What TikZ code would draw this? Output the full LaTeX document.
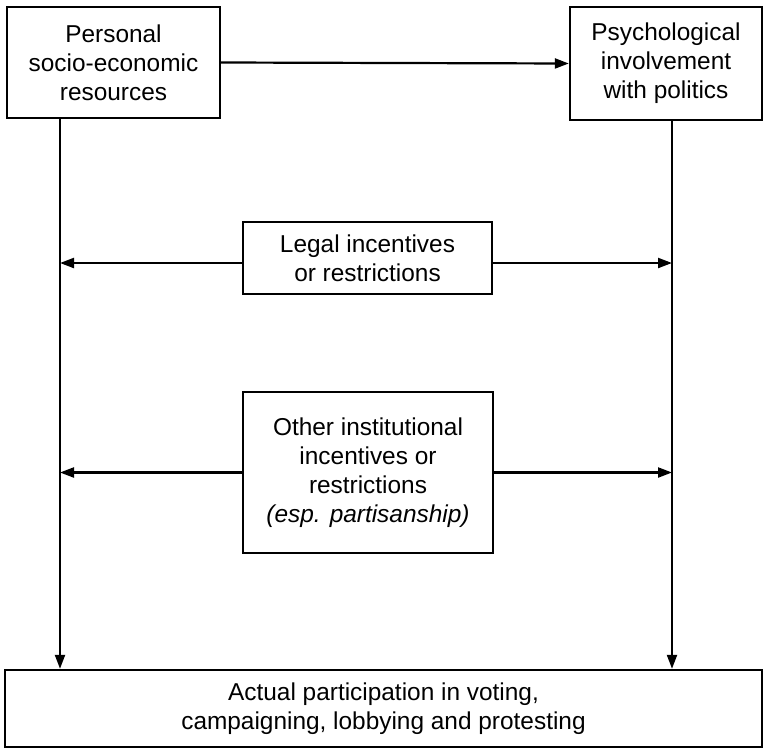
\documentclass[tikz,border=0pt]{standalone}
\usepackage{fontspec}
\setmainfont{Liberation Sans}
\usetikzlibrary{arrows.meta}
\begin{document}
\begin{tikzpicture}[x=1bp,y=-1bp,
  box/.style={draw,line width=2.4bp,align=center,inner sep=0pt,font=\fontsize{24.5}{29}\selectfont},
  conn/.style={line width=2.2bp},
  arr/.style={conn,-{Triangle[length=14bp,width=10bp]}}]
\useasboundingbox (0,0) rectangle (768,752);
\node[box,minimum width=213bp,minimum height=111bp] (res) at (113.5,62.5) {Personal\\socio-economic\\resources};
\node[box,minimum width=192bp,minimum height=113bp] (psy) at (666,63.5) {Psychological\\involvement\\with politics};
\node[box,minimum width=249bp,minimum height=72bp] (legal) at (367.5,258) {Legal incentives\\or restrictions};
\node[box,minimum width=250bp,minimum height=161bp] (other) at (368,472.5) {Other institutional\\incentives or\\restrictions\\\textit{(esp. partisanship)}};
\node[box,minimum width=757bp,minimum height=77bp] (act) at (383.5,708.5) {Actual participation in voting,\\campaigning, lobbying and protesting};
\coordinate (L) at (60,0);
\coordinate (R) at (672,0);
\draw[arr] (res.east) -- (psy.west);
\draw[arr] (res.south -| L) -- (act.north -| L);
\draw[arr] (psy.south -| R) -- (act.north -| R);
\draw[arr] ([yshift=-5bp]legal.west) -- ([yshift=-5bp]legal.west -| L);
\draw[arr] ([yshift=-5bp]legal.east) -- ([yshift=-5bp]legal.east -| R);
\draw[arr] (other.west) -- (other.west -| L);
\draw[arr] (other.east) -- (other.east -| R);
\end{tikzpicture}
\end{document}
